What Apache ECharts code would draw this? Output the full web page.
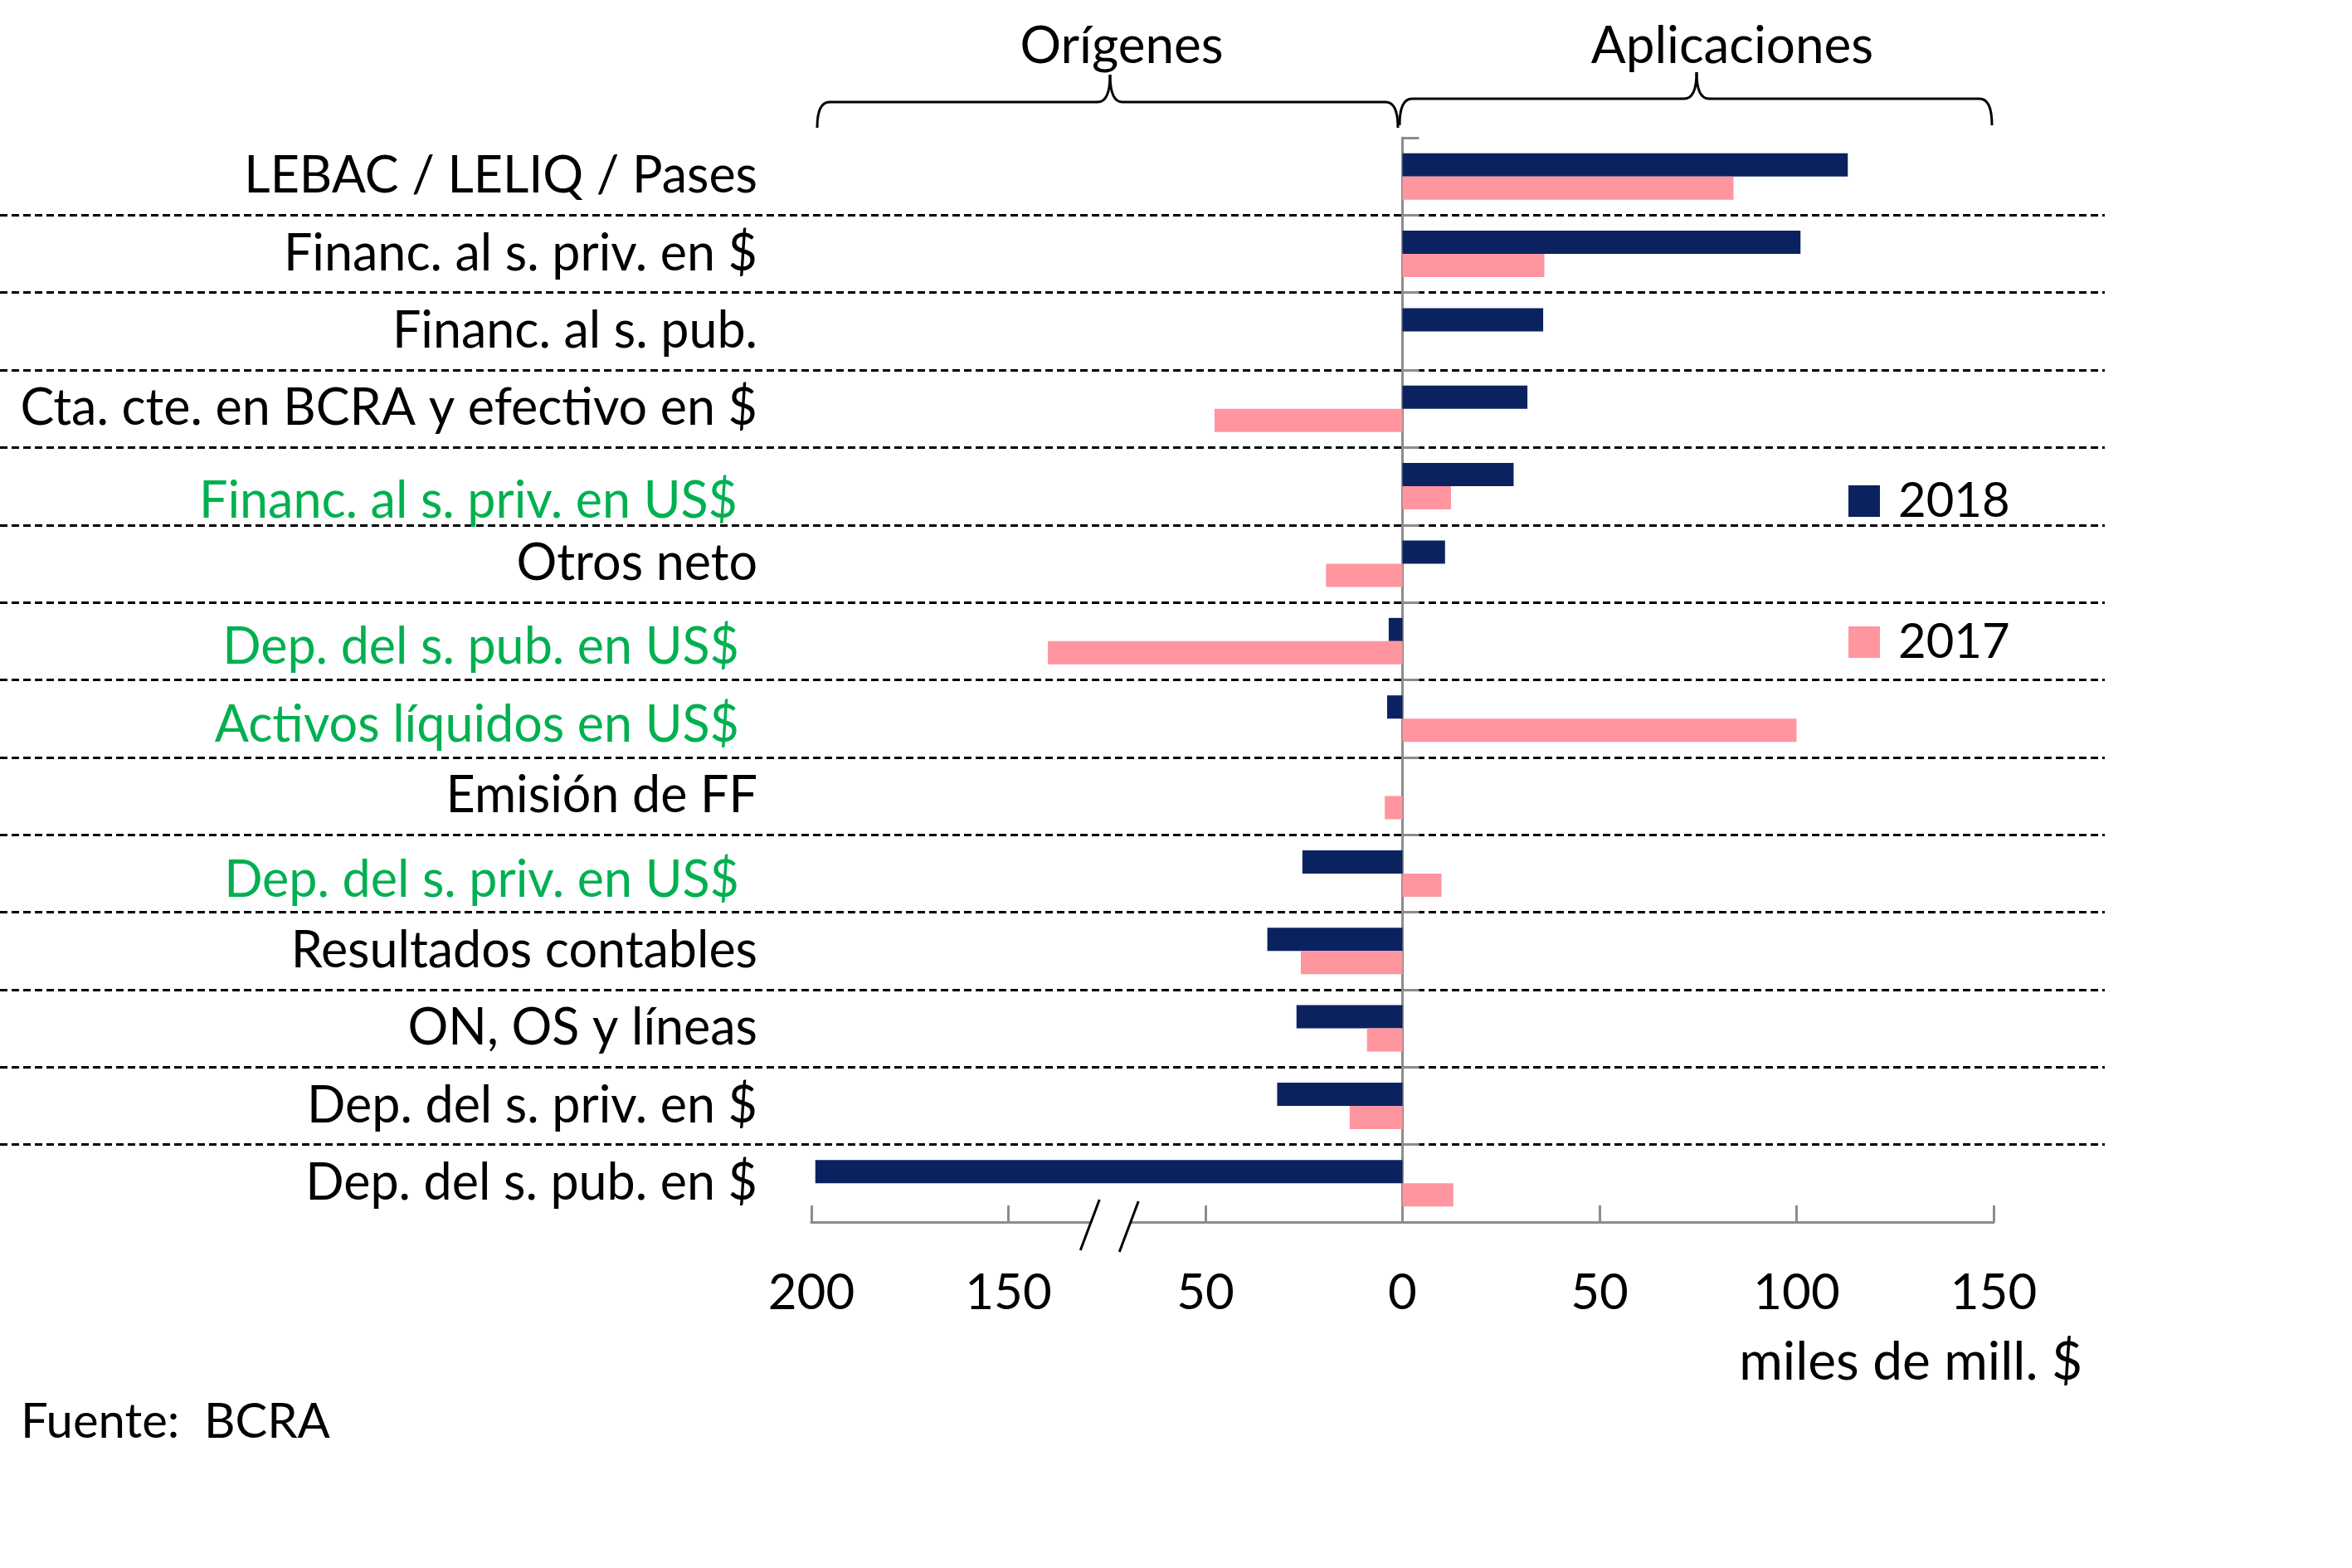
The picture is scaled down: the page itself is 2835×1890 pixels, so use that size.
<!DOCTYPE html>
<html><head><meta charset="utf-8">
<script src="https://cdn.jsdelivr.net/npm/echarts@6/dist/echarts.min.js"></script>
<style>html,body{margin:0;padding:0;background:#fff}#c{width:2835px;height:1890px}</style>
</head><body><div id="c"></div>
<script>
// ---- data (miles de mill. $) ----
const categories = [
  'LEBAC / LELIQ / Pases',
  'Financ. al s. priv. en $',
  'Financ. al s. pub.',
  'Cta. cte. en BCRA y efectivo en $',
  'Financ. al s. priv. en US$',
  'Otros neto',
  'Dep. del s. pub. en US$',
  'Activos líquidos en US$',
  'Emisión de FF',
  'Dep. del s. priv. en US$',
  'Resultados contables',
  'ON, OS y líneas',
  'Dep. del s. priv. en $',
  'Dep. del s. pub. en $'
];
const greenCategories = [
  'Financ. al s. priv. en US$',
  'Dep. del s. pub. en US$',
  'Activos líquidos en US$',
  'Dep. del s. priv. en US$'
];
const values2018 = [113, 101, 35.7, 31.7, 28.2, 10.8, -3.5, -3.9, 0, -25.4, -34.3, -26.9, -31.8, -199];
const values2017 = [84, 36, 0, -47.7, 12.3, -19.4, -90, 100, -4.5, 9.9, -25.8, -9.0, -13.4, 12.9];
const seriesNames = ['2018', '2017'];
const tickLabels = {'-150': '200', '-100': '150', '-50': '50', '0': '0', '50': '50', '100': '100', '150': '150'};
// axis break: values beyond -150 are drawn 50 units closer to zero
const BREAK_LIMIT = -150;
const BREAK_SHIFT = 50;
const BREAK_AT = -75;
function toPlot(v) { return v < BREAK_LIMIT ? v + BREAK_SHIFT : v; }

const FONT = 'Lato';
const NAVY = '#0B2260', PINK = '#FF959F', GREEN = '#00B050', AXIS = '#8C8C8C';

const chart = echarts.init(document.getElementById('c'), null, {renderer: 'canvas'});
const option = {
  backgroundColor: '#ffffff',
  animation: false,
  textStyle: {fontFamily: FONT},
  grid: [
    {left: 978, right: 432, top: 166, bottom: 417},
    {left: 0, right: 298, top: 166, bottom: 417}
  ],
  legend: {
    orient: 'vertical', left: 2223, top: 570, itemWidth: 38, itemHeight: 38, itemGap: 112,
    icon: 'rect', data: seriesNames,
    textStyle: {fontSize: 58, color: '#000', fontFamily: FONT, padding: [0, 0, 0, 17]}
  },
  xAxis: [
    {
      type: 'value', gridIndex: 0, min: -150, max: 150, interval: 50, position: 'bottom',
      axisLine: {show: true, onZero: false, lineStyle: {color: AXIS, width: 3}},
      axisTick: {show: true, inside: true, length: 20, lineStyle: {color: AXIS, width: 3}},
      axisLabel: {margin: 56, fontSize: 60, color: '#000', fontFamily: FONT,
        formatter: v => tickLabels[String(v)]},
      splitLine: {show: false}
    },
    {type: 'value', gridIndex: 1, min: 0, max: 1, show: false}
  ],
  yAxis: [
    {
      type: 'category', gridIndex: 0, data: categories, inverse: true, position: 'left',
      axisLine: {show: false, onZero: false}, axisTick: {show: false}, splitLine: {show: false},
      axisLabel: {
        margin: 65, interval: 0,
        formatter: v => {
          if (v === greenCategories[0]) return '{g1|' + v + '}';
          return greenCategories.includes(v) ? '{g|' + v + '}' : '{k|' + v + '}';
        },
        rich: {
          k: {fontSize: 61, color: '#000', fontFamily: FONT},
          g: {fontSize: 61, color: GREEN, fontFamily: FONT, padding: [16, 22, 0, 0]},
          g1: {fontSize: 61, color: GREEN, fontFamily: FONT, padding: [36, 24, 0, 0]}
        }
      }
    },
    {
      type: 'category', gridIndex: 0, data: categories, inverse: true, position: 'left',
      axisLine: {show: true, onZero: true, lineStyle: {color: AXIS, width: 3}},
      axisTick: {show: true, inside: true, length: 20, interval: 0, lineStyle: {color: AXIS, width: 3}},
      axisLabel: {show: false}, splitLine: {show: false}
    },
    {
      type: 'category', gridIndex: 1, data: categories, inverse: true,
      axisLine: {show: false}, axisTick: {show: false}, axisLabel: {show: false},
      splitLine: {show: true, interval: 0, showMinLine: false, showMaxLine: false,
        lineStyle: {color: '#000', width: 3, type: [9, 5]}}
    }
  ],
  series: [
    {name: seriesNames[0], type: 'bar', xAxisIndex: 0, yAxisIndex: 0, data: values2018.map(toPlot),
      barWidth: 28, barGap: '0%', itemStyle: {color: NAVY}, z: 3},
    {name: seriesNames[1], type: 'bar', xAxisIndex: 0, yAxisIndex: 0, data: values2017.map(toPlot),
      barWidth: 28, barGap: '0%', itemStyle: {color: PINK}, z: 3}
  ]
};
chart.setOption(option);

// decorations: braces, headings, break marks, notes
const xc = chart.convertToPixel({xAxisIndex: 0}, BREAK_AT);
const gridBottom = 1890 - 417;
const LS = {stroke: '#000', lineWidth: 3, fill: 'none'};
function brace(x0, x1, xm, y, yEnd, yTip) {
  const r = 15;
  return [
    {type: 'bezierCurve', shape: {x1: x0, y1: yEnd, cpx1: x0, cpy1: y, x2: x0 + r, y2: y}, style: LS},
    {type: 'line', shape: {x1: x0 + r, y1: y, x2: xm - r, y2: y}, style: LS},
    {type: 'bezierCurve', shape: {x1: xm - r, y1: y, cpx1: xm, cpy1: y, x2: xm, y2: yTip}, style: LS},
    {type: 'bezierCurve', shape: {x1: xm, y1: yTip, cpx1: xm, cpy1: y, x2: xm + r, y2: y}, style: LS},
    {type: 'line', shape: {x1: xm + r, y1: y, x2: x1 - r, y2: y}, style: LS},
    {type: 'bezierCurve', shape: {x1: x1 - r, y1: y, cpx1: x1, cpy1: y, x2: x1, y2: yEnd}, style: LS}
  ];
}
const txt = (text, x, y, align, size) => ({type: 'text', x: x, y: y,
  style: {text: text, fontSize: size || 61, fontFamily: FONT, fill: '#000', align: align, verticalAlign: 'middle'}});
chart.setOption({
  graphic: [
    txt('Orígenes', 1352, 56, 'center', 62),
    txt('Aplicaciones', 2088, 56, 'center', 62),
    ...brace(985, 1685, 1338, 123, 154, 90),
    ...brace(1687, 2401, 2045, 119, 151, 87),
    {type: 'rect', shape: {x: xc - 19, y: gridBottom - 4, width: 48, height: 8}, style: {fill: '#fff'}, z: 10},
    {type: 'line', shape: {x1: xc - 9, y1: gridBottom - 27, x2: xc - 32, y2: gridBottom + 34}, style: {stroke: '#000', lineWidth: 3}, z: 11},
    {type: 'line', shape: {x1: xc + 38, y1: gridBottom - 25, x2: xc + 15, y2: gridBottom + 36}, style: {stroke: '#000', lineWidth: 3}, z: 11},
    txt('miles de mill. $', 2510, 1642, 'right', 64),
    txt('Fuente:  BCRA', 25, 1714, 'left', 58)
  ]
});
</script>
</body></html>
